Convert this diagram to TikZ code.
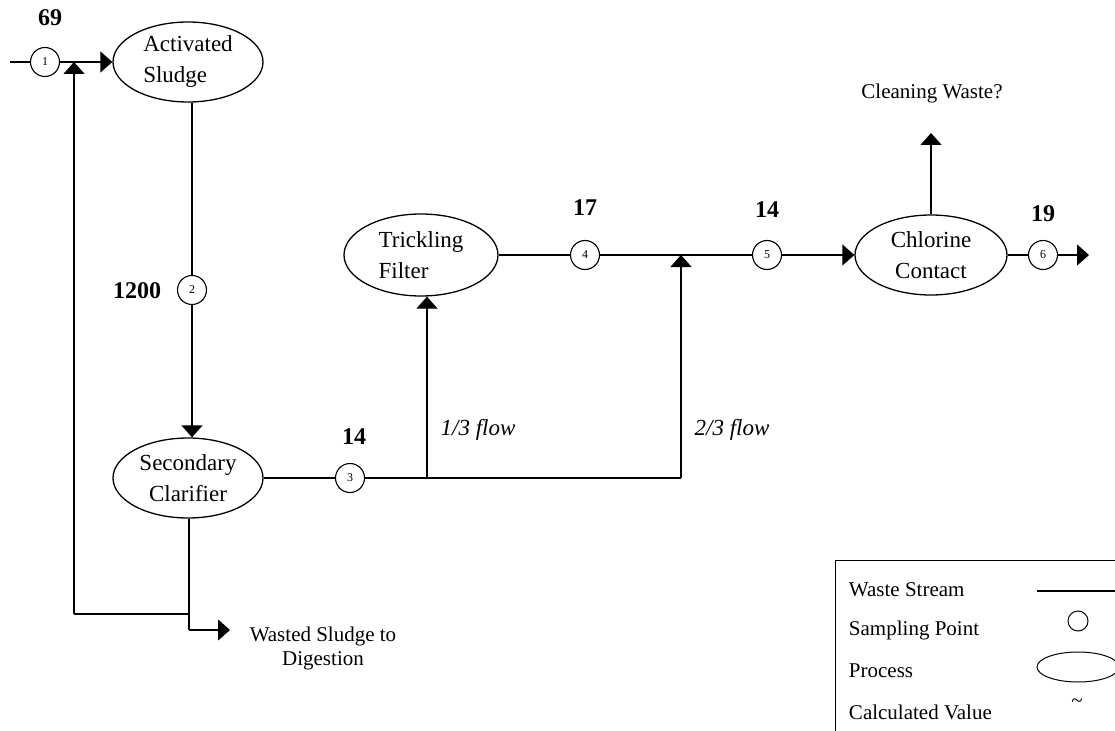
\documentclass[tikz,border=0pt]{standalone}
\usepackage{fontspec}
\setmainfont{Liberation Serif}
\usetikzlibrary{shapes.geometric,arrows.meta,calc}
\begin{document}
\begin{tikzpicture}[x=1pt,y=-1pt,
  line width=1.3pt,
  proc/.style={ellipse,draw,minimum width=150pt,minimum height=80pt,inner sep=0pt,font=\fontsize{23}{31}\selectfont},
  samp/.style={circle,draw,minimum size=29pt,inner sep=0pt,line width=1.1pt,font=\fontsize{12}{14}\selectfont},
  val/.style={font=\fontsize{24}{27}\selectfont\bfseries},
  lbl/.style={font=\fontsize{21}{24}\selectfont, align=center},
  flow/.style={font=\fontsize{23}{26}\selectfont\itshape},
  arr/.style={-{Triangle[length=12pt,width=21pt]}},
]
\useasboundingbox (0,0) rectangle (1115,730);
\clip (0,0) rectangle (1115,730);

% processes
\node[proc,align=left] (as) at (188,62) {Activated\\Sludge};
\node[proc,align=center] (sc) at (188,478) {Secondary\\Clarifier};
\node[proc,align=left,minimum width=154pt,minimum height=82pt] (tf) at (421,255) {Trickling\\Filter};
\node[proc,align=center,minimum width=152pt] (cc) at (931,255) {Chlorine\\Contact};

% sampling points
\node[samp] (s1) at (45,62) {1};
\node[samp] (s2) at (192,290) {2};
\node[samp] (s3) at (350,478) {3};
\node[samp] (s4) at (585,255) {4};
\node[samp] (s5) at (767,255) {5};
\node[samp] (s6) at (1043,255) {6};

% values
\node[val] (v1) at (50,18) {69};
\node[val] (v2) at (137,291) {1200};
\node[val] (v3) at (354,437) {14};
\node[val] (v4) at (585,208) {17};
\node[val] (v5) at (767,210) {14};
\node[val] (v6) at (1043,214) {19};

% labels
\node[flow] (f1) at (478,430) {1/3 flow};
\node[flow] (f2) at (732,430) {2/3 flow};
\node[lbl] (cw) at (932,93) {Cleaning Waste?};
\node[lbl] (ws) at (323,648) {Wasted Sludge to\\Digestion};

% helper coordinates
\coordinate (in) at (10,62);
\coordinate (j1) at (427,478);
\coordinate (j2) at (681,478);
\coordinate (m) at (681,255);
\coordinate (cwt) at (931,133);
\coordinate (out) at (1089,255);
\coordinate (wj) at (189,614);
\coordinate (rj) at (74,614);
\coordinate (wa) at (189,630);
\coordinate (wt) at (230,630);

% connectors
\draw (in) -- (s1);
\draw[arr] (s1) -- (as);
\draw (s2 |- as.south) -- (s2);
\draw[arr] (s2) -- (s2 |- sc.north);
\draw (sc) -- (s3);
\draw (s3) -- (j2);
\draw[arr] (j1) -- (j1 |- tf.south);
\draw[arr] (j2) -- (m);
\draw (tf) -- (s4);
\draw (s4) -- (s5);
\draw[arr] (s5) -- (cc);
\draw[arr] (cc) -- (cwt);
\draw (cc) -- (s6);
\draw[arr] (s6) -- (out);
\draw (wj |- sc.south) -- (wj) -- (wa);
\draw[arr] (wa) -- (wt);
\draw (wj) -- (rj);
\draw[arr] (rj) -- (rj |- s1);

% legend
\node[draw,line width=1.3pt,minimum width=300pt,minimum height=200pt,anchor=north west,inner sep=0pt] (leg) at (835,560) {};
\node[lbl,anchor=west] (l1) at (845,590) {Waste Stream};
\node[lbl,anchor=west] (l2) at (845,630) {Sampling Point};
\node[lbl,anchor=west] (l3) at (845,671) {Process};
\node[lbl,anchor=west] (l4) at (845,712) {Calculated Value};
\coordinate (ls1) at (1037,591);
\coordinate (ls2) at (1120,591);
\draw (ls1) -- (ls2);
\node[draw,circle,minimum size=20pt,inner sep=0pt,line width=1pt] (lc) at (1078,621) {};
\node[draw,ellipse,minimum width=82pt,minimum height=30pt,inner sep=0pt,line width=1pt] (le) at (1078,667) {};
\node[lbl] (lt) at (1077,703) {\textasciitilde};
\end{tikzpicture}
\end{document}
